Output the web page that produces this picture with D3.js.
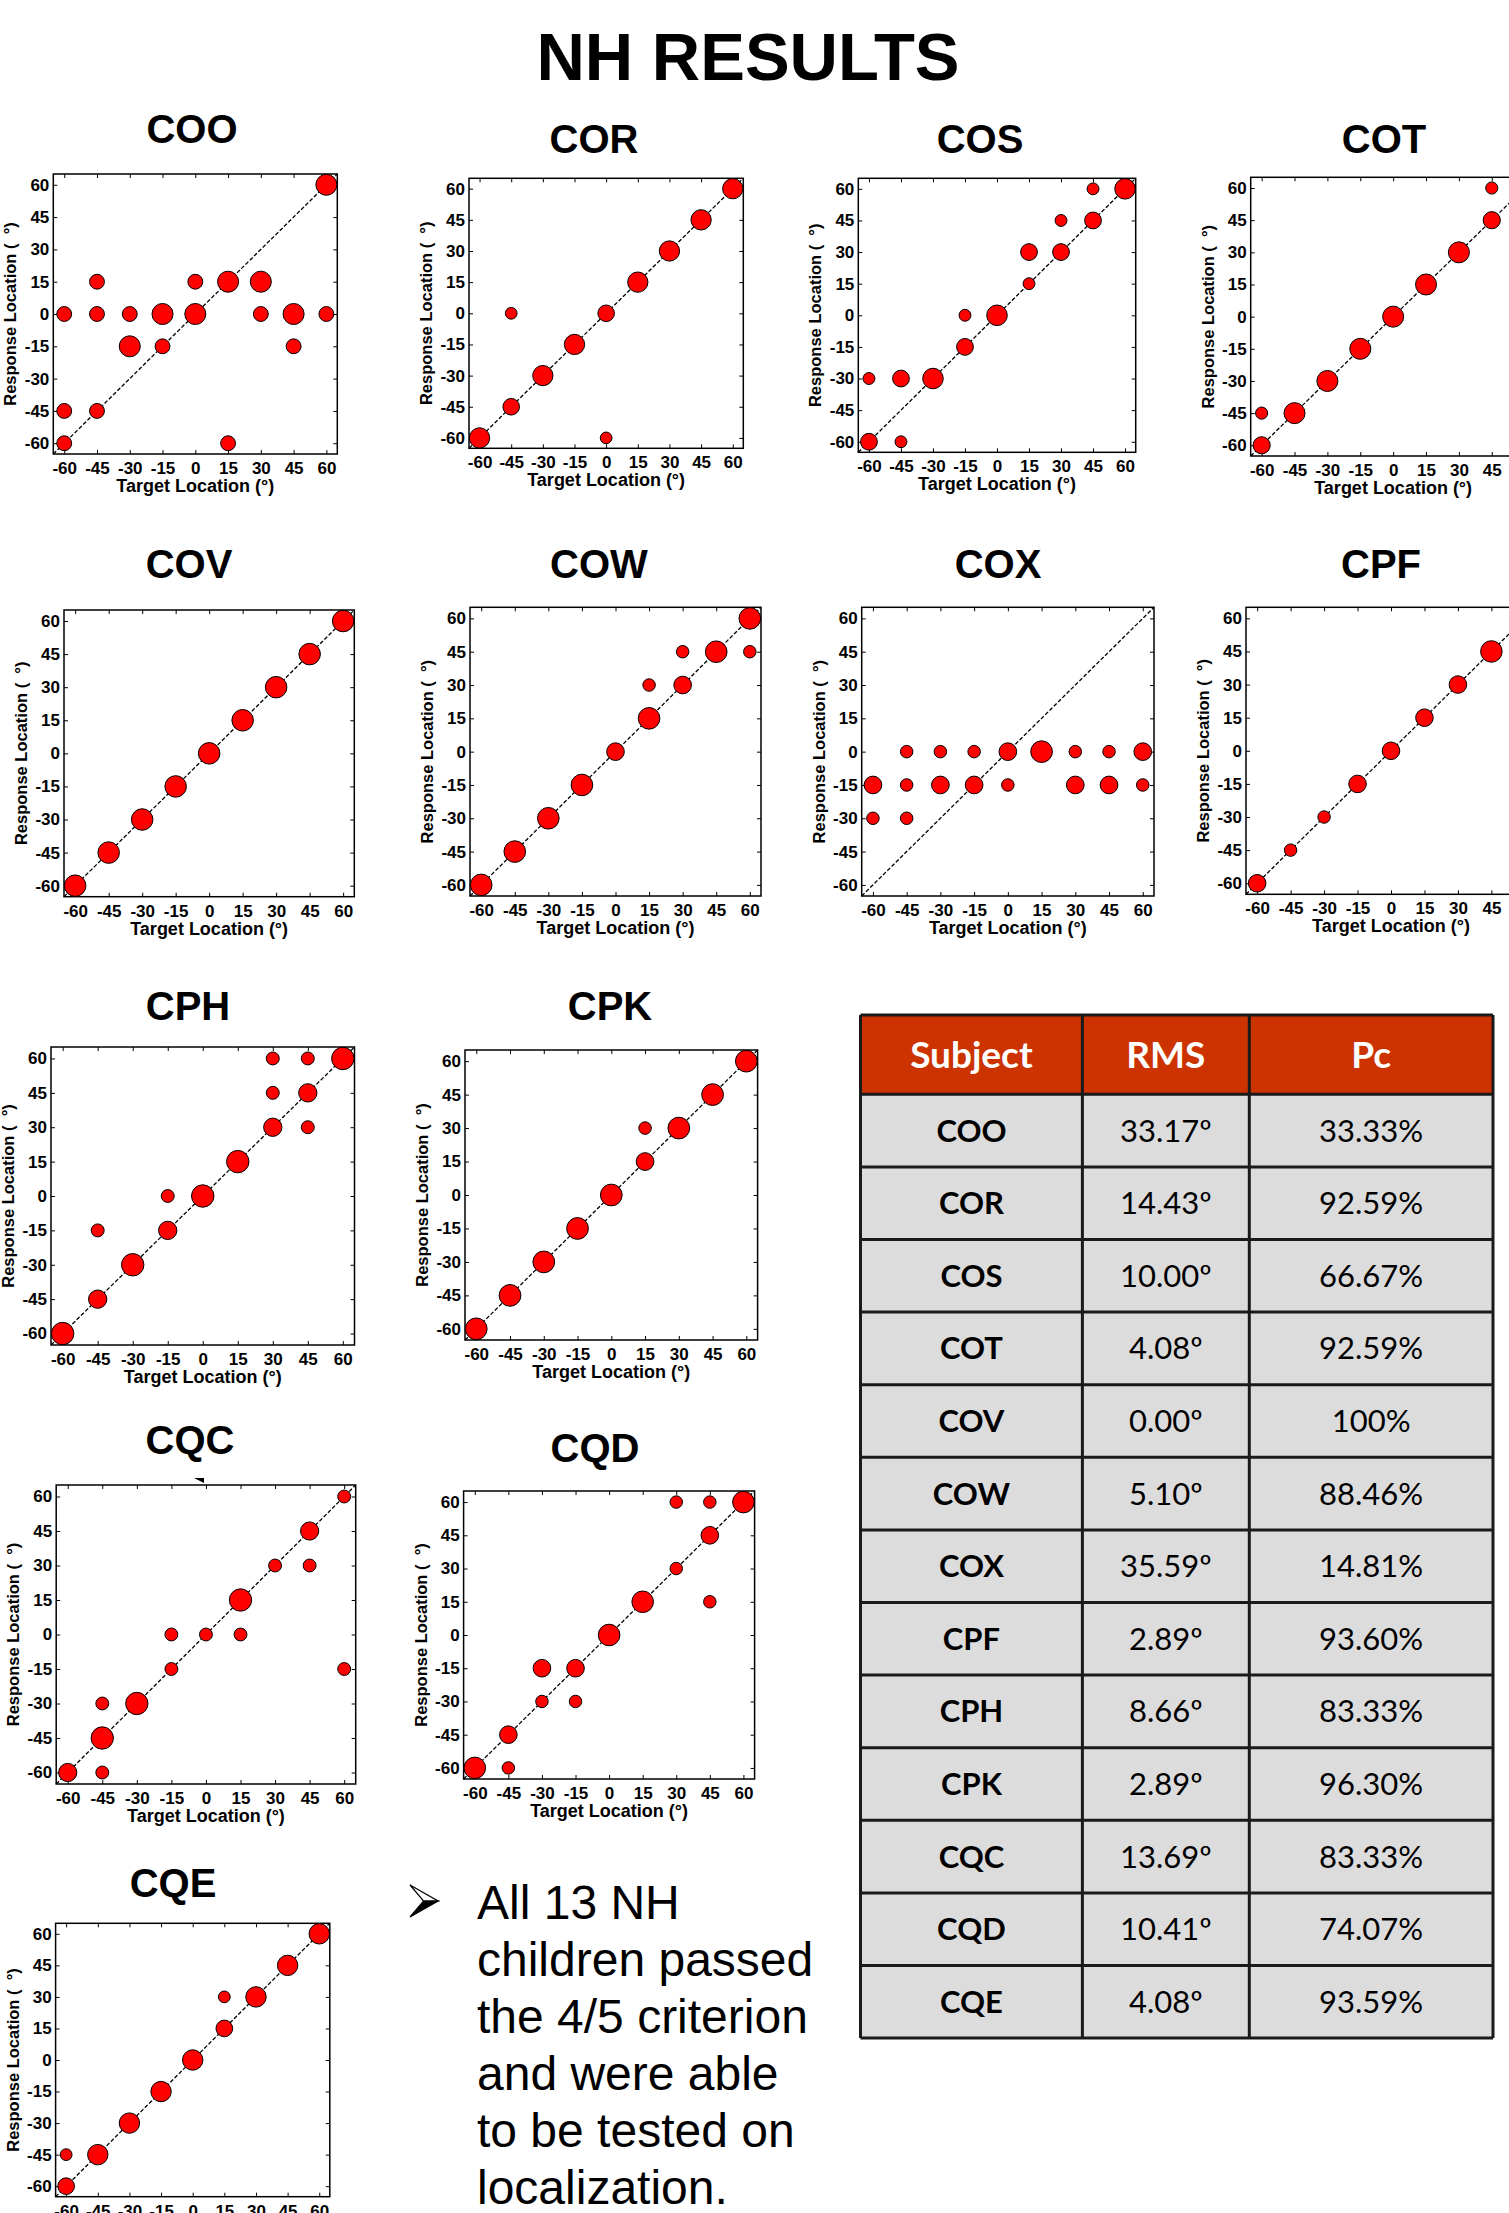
<!DOCTYPE html>
<html>
<head>
<meta charset="utf-8">
<script src="https://cdn.jsdelivr.net/npm/d3@7"></script>
<style>
  html, body { margin: 0; padding: 0; background: #fff; }
  svg { display: block; }
  .ptitle { font: bold 40px "Liberation Sans", Arial, sans-serif; }
  .tlab { font: bold 17px "Liberation Sans", Arial, sans-serif; }
  .alab { font: bold 18px "Liberation Sans", Arial, sans-serif; }
  .ylab { font: bold 16.5px "Liberation Sans", Arial, sans-serif; }
</style>
</head>
<body>
<script>
// 1. Daten: [Target, Response, Anzahl]
const ticks = [-60, -45, -30, -15, 0, 15, 30, 45, 60];

const COO = [[-60,0,1],[-60,-45,1],[-60,-60,1],[-45,15,1],[-45,0,1],[-45,-45,1],
  [-30,0,1],[-30,-15,2],[-15,0,2],[-15,-15,1],[0,15,1],[0,0,2],[15,15,2],[15,-60,1],
  [30,15,2],[30,0,1],[45,0,2],[45,-15,1],[60,60,2],[60,0,1]];
const COR = [[-60,-60,3],[-45,0,1],[-45,-45,2],[-30,-30,3],[-15,-15,3],[0,0,2],[0,-60,1],
  [15,15,3],[30,30,3],[45,45,3],[60,60,3]];
const COS = [[-60,-30,1],[-60,-60,2],[-45,-30,2],[-45,-60,1],[-30,-30,3],[-15,0,1],[-15,-15,2],
  [0,0,3],[15,30,2],[15,15,1],[30,45,1],[30,30,2],[45,60,1],[45,45,2],[60,60,3]];
const COT = [[-60,-45,1],[-60,-60,2],[-45,-45,3],[-30,-30,3],[-15,-15,3],[0,0,3],[15,15,3],
  [30,30,3],[45,60,1],[45,45,2],[60,60,3]];
const COV = [[-60,-60,3],[-45,-45,3],[-30,-30,3],[-15,-15,3],[0,0,3],[15,15,3],[30,30,3],
  [45,45,3],[60,60,3]];
const COW = [[-60,-60,3],[-45,-45,3],[-30,-30,3],[-15,-15,3],[0,0,2],[15,30,1],[15,15,3],
  [30,45,1],[30,30,2],[45,45,3],[60,60,3],[60,45,1]];
const COX = [[-60,-15,2],[-60,-30,1],[-45,0,1],[-45,-15,1],[-45,-30,1],[-30,0,1],[-30,-15,2],
  [-15,0,1],[-15,-15,2],[0,0,2],[0,-15,1],[15,0,3],[30,0,1],[30,-15,2],[45,0,1],[45,-15,2],
  [60,0,2],[60,-15,1]];
const CPF = [[-60,-60,2],[-45,-45,1],[-30,-30,1],[-15,-15,2],[0,0,2],[15,15,2],[30,30,2],
  [45,45,3],[60,60,3]];
const CPH = [[-60,-60,3],[-45,-15,1],[-45,-45,2],[-30,-30,3],[-15,0,1],[-15,-15,2],[0,0,3],
  [15,15,3],[30,60,1],[30,45,1],[30,30,2],[45,60,1],[45,45,2],[45,30,1],[60,60,3]];
const CPK = [[-60,-60,3],[-45,-45,3],[-30,-30,3],[-15,-15,3],[0,0,3],[15,30,1],[15,15,2],
  [30,30,3],[45,45,3],[60,60,3]];
const CQC = [[-60,-60,2],[-45,-30,1],[-45,-45,3],[-45,-60,1],[-30,-30,3],[-15,0,1],[-15,-15,1],
  [0,0,1],[15,15,3],[15,0,1],[30,30,1],[45,45,2],[45,30,1],[60,60,1],[60,-15,1]];
const CQD = [[-60,-60,3],[-45,-45,2],[-45,-60,1],[-30,-15,2],[-30,-30,1],[-15,-15,2],[-15,-30,1],
  [0,0,3],[15,15,3],[30,60,1],[30,30,1],[45,60,1],[45,45,2],[45,15,1],[60,60,3]];
const CQE = [[-60,-60,2],[-60,-45,1],[-45,-45,3],[-30,-30,3],[-15,-15,3],[0,0,3],[15,15,2],
  [15,30,1],[30,30,3],[45,45,3],[60,60,3]];

const panelData = { COO, COR, COS, COT, COV, COW, COX, CPF, CPH, CPK, CQC, CQD, CQE };

// Tabelle
const subjects = ["COO","COR","COS","COT","COV","COW","COX","CPF","CPH","CPK","CQC","CQD","CQE"];
const rmsValues = [33.17, 14.43, 10.00, 4.08, 0.00, 5.10, 35.59, 2.89, 8.66, 2.89, 13.69, 10.41, 4.08];
const pcValues = [33.33, 92.59, 66.67, 92.59, 100, 88.46, 14.81, 93.60, 83.33, 96.30, 83.33, 74.07, 93.59];
const tableHeader = ["Subject", "RMS", "Pc"];

const bulletLines = ["All 13 NH", "children passed", "the 4/5 criterion", "and were able",
  "to be tested on", "localization."];

// 2. Layout der Panels (Rahmen + Titel, in Seitenpixeln)
const panels = [
  { id: "COO", L: 53.3,  T: 174,    R: 337.3,  B: 454,    tx: 192,  ty: 143 },
  { id: "COR", L: 469,   T: 178.3,  R: 743.3,  B: 448.3,  tx: 594,  ty: 153 },
  { id: "COS", L: 858.3, T: 178.3,  R: 1135.7, B: 452.3,  tx: 980,  ty: 153 },
  { id: "COT", L: 1250.7,T: 177.3,  R: 1535.6, B: 456,    tx: 1384, ty: 153 },
  { id: "COV", L: 64,    T: 610,    R: 354.3,  B: 896.7,  tx: 189,  ty: 578 },
  { id: "COW", L: 470,   T: 607.3,  R: 761,    B: 896,    tx: 599,  ty: 578 },
  { id: "COX", L: 861.7, T: 607.3,  R: 1154,   B: 896,    tx: 998,  ty: 578 },
  { id: "CPF", L: 1246,  T: 607.3,  R: 1536,   B: 894.3,  tx: 1381, ty: 578 },
  { id: "CPH", L: 51,    T: 1047,   R: 354.5,  B: 1345,   tx: 188,  ty: 1020 },
  { id: "CPK", L: 465,   T: 1050,   R: 757.6,  B: 1340,   tx: 610,  ty: 1020 },
  { id: "CQC", L: 56.2,  T: 1485,   R: 355.7,  B: 1784,   tx: 190,  ty: 1454 },
  { id: "CQD", L: 463.6, T: 1491,   R: 754.6,  B: 1779,   tx: 595,  ty: 1462 },
  { id: "CQE", L: 55.6,  T: 1923.3, R: 329.8,  B: 2196.7, tx: 173,  ty: 1897 }
];

const svg = d3.select("body").append("svg").attr("width", 1509).attr("height", 2213);

// Haupttitel
svg.append("text")
  .attr("x", 748).attr("y", 80)
  .attr("text-anchor", "middle")
  .style("font", "bold 67px 'Liberation Sans', Arial, sans-serif")
  .text("NH RESULTS");

// 3. Ein Panel zeichnen
function drawPanel(p) {
  const data = panelData[p.id];
  const g = svg.append("g");
  const x = d3.scaleLinear().domain([-65, 65]).range([p.L, p.R]);
  const y = d3.scaleLinear().domain([-65, 65]).range([p.B, p.T]);
  const pxPerDeg = ((p.R - p.L) + (p.B - p.T)) / 2 / 130;
  const r = d3.scaleSqrt().domain([0, d3.max(data, d => d[2])]).range([0, 4.85 * pxPerDeg]);

  g.append("text").attr("class", "ptitle")
    .attr("x", p.tx).attr("y", p.ty).attr("text-anchor", "middle").text(p.id);

  const styleAxis = a => {
    a.select(".domain").remove();
    a.attr("font-size", null).attr("font-family", null).attr("class", "tlab");
    a.selectAll("line").attr("stroke-width", 1);
  };
  const fmt = d => String(d); // Bindestrich statt Minuszeichen

  g.append("g").attr("transform", `translate(0,${p.B})`)
    .call(d3.axisBottom(x).tickValues(ticks).tickFormat(fmt).tickSize(-4).tickPadding(8)).call(styleAxis);
  g.append("g").attr("transform", `translate(${p.L},0)`)
    .call(d3.axisLeft(y).tickValues(ticks).tickFormat(fmt).tickSize(-4).tickPadding(4)).call(styleAxis);
  g.append("g").attr("transform", `translate(0,${p.T})`)
    .call(d3.axisTop(x).tickValues(ticks).tickSize(-4).tickFormat("")).call(styleAxis);
  g.append("g").attr("transform", `translate(${p.R},0)`)
    .call(d3.axisRight(y).tickValues(ticks).tickSize(-4).tickFormat("")).call(styleAxis);

  g.append("rect")
    .attr("x", p.L).attr("y", p.T).attr("width", p.R - p.L).attr("height", p.B - p.T)
    .attr("fill", "none").attr("stroke", "#000").attr("stroke-width", 1.5);

  g.append("text").attr("class", "alab")
    .attr("x", (p.L + p.R) / 2).attr("y", p.B + 38).attr("text-anchor", "middle")
    .text("Target Location (°)");
  g.append("text").attr("class", "ylab")
    .attr("transform", `translate(${p.L - 37},${(p.T + p.B) / 2}) rotate(-90)`)
    .attr("text-anchor", "middle")
    .text("Response Location (\u00a0\u00a0°)");

  // Diagonale
  g.append("line")
    .attr("x1", x(-65)).attr("y1", y(-65)).attr("x2", x(65)).attr("y2", y(65))
    .attr("stroke", "#000").attr("stroke-width", 1.3).attr("stroke-dasharray", "4,2");

  g.selectAll("circle.pt").data(data).join("circle").attr("class", "pt")
    .attr("cx", d => x(d[0])).attr("cy", d => y(d[1])).attr("r", d => r(d[2]))
    .attr("fill", "#ff0000").attr("stroke", "#000").attr("stroke-width", 1);
}

panels.forEach(drawPanel);

// kleiner Artefakt-Keil über CQC
svg.append("path").attr("d", "M194,1478 L204,1478 L204,1483 Z").attr("fill", "#000");

// 4. Tabelle
const tbl = { L: 860.5, cols: [860.5, 1082.4, 1249.3, 1493], T: 1015, headH: 79.3, rowH: 72.6 };
const tg = svg.append("g");
tg.append("rect").attr("x", tbl.L).attr("y", tbl.T)
  .attr("width", tbl.cols[3] - tbl.L).attr("height", tbl.headH).attr("fill", "#cc3300");
tg.append("rect").attr("x", tbl.L).attr("y", tbl.T + tbl.headH)
  .attr("width", tbl.cols[3] - tbl.L).attr("height", tbl.rowH * subjects.length).attr("fill", "#dcdcdc");

const colMid = i => (tbl.cols[i] + tbl.cols[i + 1]) / 2;
tg.selectAll("text.hd").data(tableHeader).join("text").attr("class", "hd")
  .attr("x", (d, i) => colMid(i)).attr("y", tbl.T + tbl.headH / 2 + 13)
  .attr("text-anchor", "middle").attr("fill", "#fff")
  .style("font", "bold 37px Lato, 'Open Sans', sans-serif").text(d => d);

const rows = subjects.map((s, i) => [s, rmsValues[i].toFixed(2) + "º",
  pcValues[i] === 100 ? "100%" : pcValues[i].toFixed(2) + "%"]);
rows.forEach((row, ri) => {
  const cy = tbl.T + tbl.headH + tbl.rowH * ri + tbl.rowH / 2;
  row.forEach((v, ci) => {
    tg.append("text").attr("x", colMid(ci)).attr("y", cy + 11)
      .attr("text-anchor", "middle").attr("fill", "#000")
      .style("font", `${ci === 0 ? "bold" : "normal"} 31px Lato, 'Open Sans', sans-serif`)
      .text(v);
  });
});

const tBottom = tbl.T + tbl.headH + tbl.rowH * subjects.length;
const hLines = [tbl.T, tbl.T + tbl.headH].concat(subjects.map((s, i) => tbl.T + tbl.headH + tbl.rowH * (i + 1)));
tg.selectAll("line.h").data(hLines).join("line").attr("class", "h")
  .attr("x1", tbl.L).attr("x2", tbl.cols[3]).attr("y1", d => d).attr("y2", d => d)
  .attr("stroke", "#1a1a1a").attr("stroke-width", 3);
tg.selectAll("line.v").data(tbl.cols).join("line").attr("class", "v")
  .attr("x1", d => d).attr("x2", d => d).attr("y1", tbl.T).attr("y2", tBottom)
  .attr("stroke", "#1a1a1a").attr("stroke-width", 3);

// 5. Aufzählungstext
svg.append("path").attr("d", "M410,1885 L438,1901 L423.5,1901 Z")
  .attr("fill", "#fff").attr("stroke", "#000").attr("stroke-width", 1.2);
svg.append("path").attr("d", "M423.5,1901 L438,1901 L410,1917 Z")
  .attr("fill", "#000").attr("stroke", "#000").attr("stroke-width", 1.2);

svg.selectAll("text.bl").data(bulletLines).join("text").attr("class", "bl")
  .attr("x", 477).attr("y", (d, i) => 1919 + i * 57)
  .style("font", "48px 'Liberation Sans', Arial, sans-serif")
  .text(d => d);
</script>
</body>
</html>
